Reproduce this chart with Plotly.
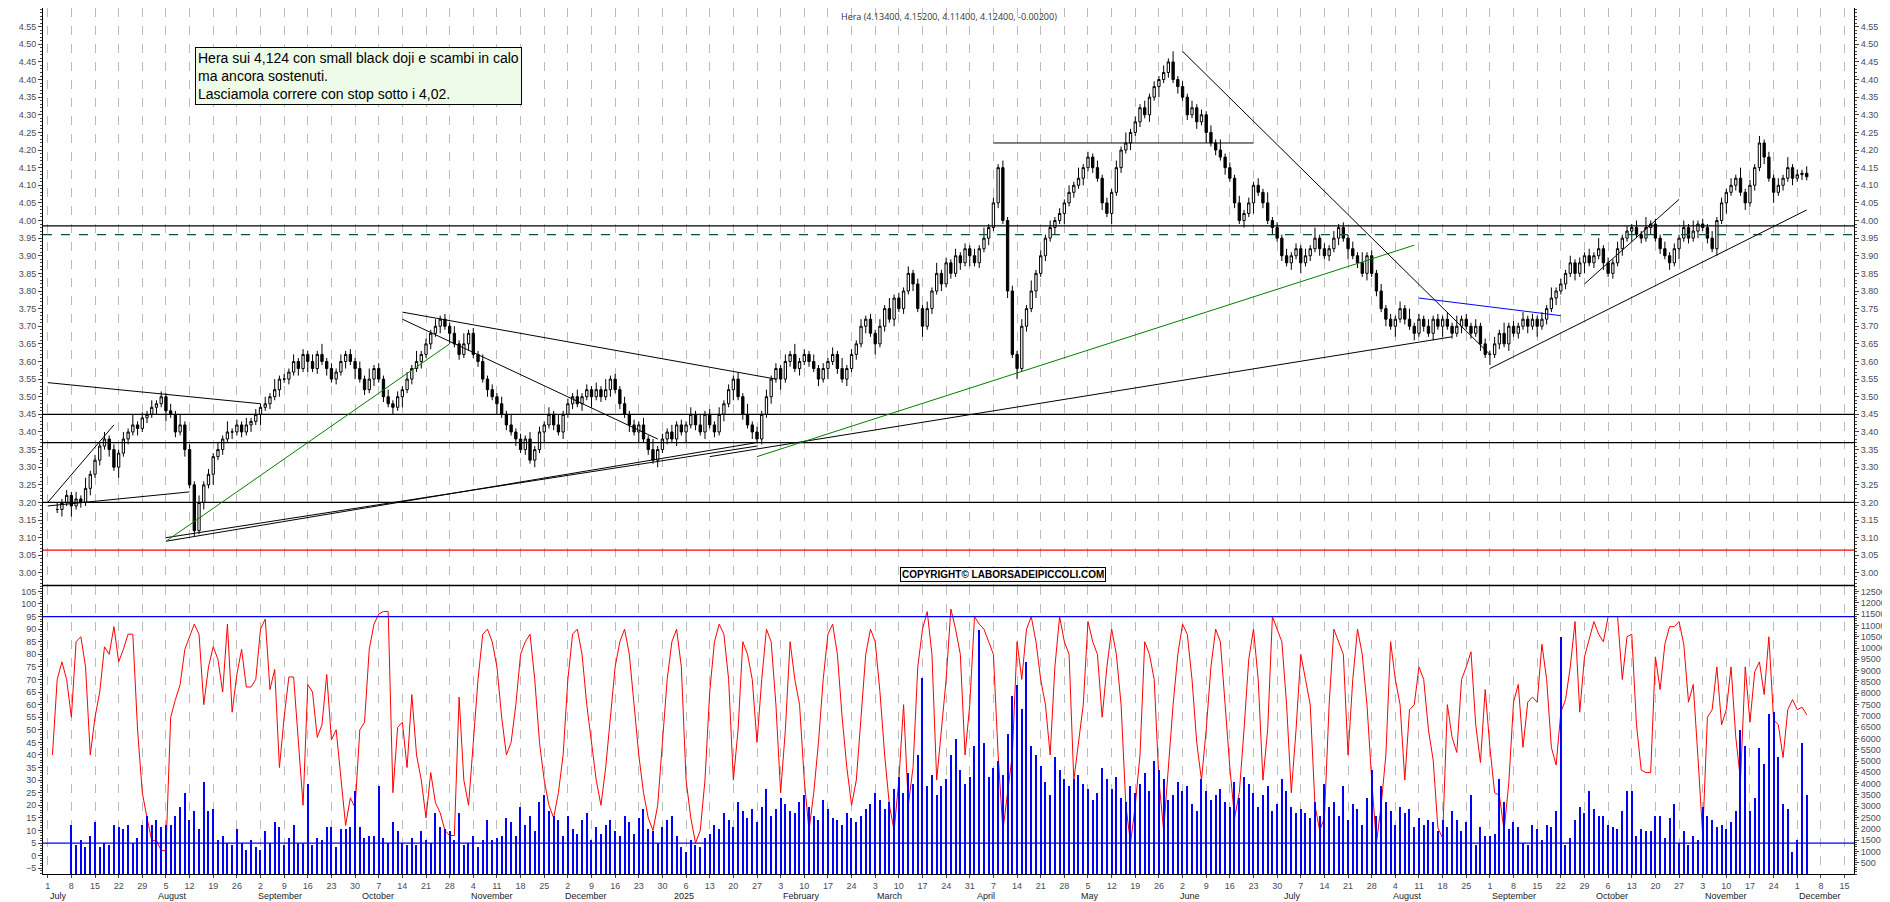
import pandas as pd
import plotly.graph_objects as go

# chiusure giornaliere
close = [
    3.18, 3.20, 3.22, 3.19, 3.21,
    3.20, 3.24, 3.28, 3.32, 3.36, 3.38, 3.35, 3.30, 3.34, 3.38, 3.40, 3.42, 3.41, 3.44, 3.45, 3.47, 3.48, 3.50, 3.46, 3.45, 3.40, 3.42,
    3.35, 3.25, 3.12, 3.20, 3.25, 3.28, 3.33, 3.35, 3.38, 3.40, 3.40, 3.42, 3.40, 3.42, 3.43, 3.45, 3.47, 3.48, 3.50, 3.52, 3.55, 3.55,
    3.57, 3.60, 3.58, 3.62, 3.60, 3.58, 3.62, 3.60, 3.58, 3.55, 3.57, 3.60, 3.62, 3.60, 3.58, 3.55, 3.52, 3.55, 3.58, 3.55, 3.50, 3.48,
    3.47, 3.50, 3.52, 3.55, 3.58, 3.60, 3.62, 3.65, 3.68, 3.70, 3.72, 3.70, 3.68, 3.65, 3.62, 3.65, 3.68, 3.62, 3.60, 3.55, 3.52, 3.50,
    3.48, 3.45, 3.42, 3.40, 3.38, 3.35, 3.38, 3.32, 3.35, 3.40, 3.42, 3.45, 3.42, 3.40, 3.45, 3.48, 3.50, 3.48, 3.50, 3.52, 3.50,
    3.52, 3.50, 3.52, 3.55, 3.52, 3.48, 3.45, 3.42, 3.40, 3.42, 3.38, 3.35, 3.32, 3.35, 3.38, 3.40, 3.38, 3.42, 3.40, 3.42,
    3.45, 3.42, 3.40, 3.45, 3.42, 3.40, 3.45, 3.48, 3.52, 3.55, 3.50, 3.45, 3.42, 3.40, 3.38, 3.45, 3.50, 3.55, 3.58, 3.55, 3.60, 3.62,
    3.58, 3.60, 3.62, 3.60, 3.58, 3.55, 3.58, 3.60, 3.62, 3.58, 3.55, 3.58, 3.62, 3.65, 3.70, 3.72, 3.68, 3.65, 3.70, 3.75,
    3.72, 3.78, 3.75, 3.80, 3.85, 3.82, 3.75, 3.70, 3.75, 3.80, 3.85, 3.82, 3.88, 3.85, 3.90, 3.88, 3.92, 3.90, 3.88, 3.92, 3.95, 3.98,
    4.05, 4.15, 4.00, 3.80, 3.62, 3.58, 3.70, 3.75, 3.80, 3.85, 3.90, 3.95, 3.98, 4.00, 4.02, 4.05, 4.08, 4.10, 4.12, 4.15, 4.18, 4.15,
    4.12, 4.05, 4.02, 4.08, 4.15, 4.20, 4.22, 4.25, 4.28, 4.32, 4.30, 4.35, 4.38, 4.40, 4.42, 4.45, 4.40, 4.38, 4.35, 4.30,
    4.32, 4.28, 4.30, 4.25, 4.22, 4.20, 4.18, 4.15, 4.12, 4.05, 4.00, 4.02, 4.05, 4.10, 4.08, 4.05, 4.00, 3.98, 3.95, 3.90, 3.88,
    3.90, 3.92, 3.88, 3.90, 3.92, 3.95, 3.92, 3.90, 3.92, 3.95, 3.98, 3.95, 3.92, 3.90, 3.88, 3.85, 3.90, 3.85, 3.80, 3.75, 3.72, 3.70,
    3.72, 3.75, 3.72, 3.70, 3.68, 3.72, 3.70, 3.68, 3.72, 3.70, 3.72, 3.70, 3.68, 3.70, 3.72, 3.70, 3.68, 3.70, 3.65, 3.62,
    3.62, 3.65, 3.68, 3.65, 3.70, 3.68, 3.70, 3.72, 3.70, 3.72, 3.70, 3.72, 3.75, 3.78, 3.80, 3.82, 3.85, 3.88, 3.85, 3.88, 3.90, 3.88,
    3.90, 3.92, 3.88, 3.85, 3.88, 3.92, 3.95, 3.97, 3.98, 3.96, 3.95, 3.98, 3.99, 3.95, 3.92, 3.90, 3.88, 3.92, 3.95, 3.98, 3.95, 3.97, 3.99,
    3.98, 3.95, 3.92, 4.00, 4.05, 4.08, 4.10, 4.12, 4.08, 4.05, 4.10, 4.15, 4.22, 4.18, 4.12, 4.08, 4.10, 4.12, 4.15, 4.12,
    4.13, 4.134, 4.124,
]
# escursione sopra/sotto il corpo
wick = [0.02, 0.01, 0.015, 0.01, 0.02, 0.01, 0.03, 0.01, 0.015, 0.01]

# oscillatore (scala sinistra)
osc = [
    40, 70, 77, 70, 55, 85, 87, 75, 40, 55, 65, 83, 80, 91, 77, 82, 88, 88, 50, 25, 15, 6,
    6, 2, 2, 55, 62, 68, 82, 87, 92, 88, 60, 75, 83, 78, 65, 92, 57, 72, 82, 67, 67, 70,
    90, 94, 66, 74, 35, 55, 71, 71, 45, 20, 68, 65, 47, 52, 72, 46, 50, 30, 12, 23, 19, 50,
    53, 82, 92, 96, 97, 97, 25, 51, 53, 35, 64, 40, 30, 15, 33, 21, 17, 10, 8, 8, 63, 30,
    20, 45, 70, 88, 90, 85, 75, 55, 40, 45, 60, 80, 85, 88, 70, 45, 30, 20, 15, 25, 40, 70, 88, 90, 80, 60,
    45, 30, 20, 35, 55, 75, 85, 90, 80, 60, 40, 25, 15, 10, 20, 45, 70, 85, 90, 75,
    30, 15, 5, 10, 30, 65, 85, 92, 88, 70, 30, 50, 85, 80, 70, 45, 70, 90, 85, 60, 25, 50, 85, 70, 60, 30, 10,
    25, 45, 70, 88, 92, 80, 55, 35, 20, 30, 55, 80, 90, 85, 65, 40, 20, 10, 30, 60,
    20, 35, 75, 90, 97, 80, 30, 50, 70, 98, 90, 80, 40, 60, 95, 92, 90, 85, 80, 40, 10, 25, 40, 85, 70, 90, 95, 85,
    70, 60, 40, 75, 95, 85, 80, 30, 45, 60, 93, 85, 80, 55, 75, 90, 80, 60, 20, 5, 20, 40, 85, 80, 70, 30, 10,
    35, 60, 80, 92, 88, 70, 45, 30, 50, 75, 90, 85, 60, 35, 15, 25, 50, 78, 90, 70,
    30, 50, 95, 90, 85, 60, 25, 50, 80, 70, 60, 20, 10, 15, 60, 90, 85, 80, 40, 70, 90, 80, 60, 30, 5, 20, 40, 85,
    70, 60, 30, 58, 60, 75, 70, 50, 38, 11, 7, 60, 47, 41, 70, 75, 81, 52, 37, 66, 43,
    25, 24, 10, 29, 61, 68, 43, 61, 63, 61, 84, 70, 43, 36, 57, 62, 75, 93, 57, 79, 86, 93,
    88, 85, 95, 95, 95, 70, 87, 88, 52, 34, 33, 33, 79, 66, 84, 91, 91, 93, 84, 61, 68, 39,
    8, 55, 58, 75, 52, 58, 75, 47, 30, 75, 53, 73, 77, 64, 87, 54, 52, 39, 58, 62, 58, 59, 56,
]

# volumi (scala destra, x1000)
vol = [
    2200, 1300, 1500, 1200, 1700,
    2300, 1200, 1400, 1300, 2200, 2100, 2000, 2200, 1400, 1600, 2200, 2600, 2200, 2400, 2100, 2200, 2200, 2600, 3000, 3600, 2400, 2800,
    2000, 4100, 2800, 2900, 1500, 1700, 1400, 1300, 2000, 1400, 1100, 1500, 1200, 1100, 1900, 1400, 2300, 2100, 1300, 1600, 2200, 1400,
    1400, 4000, 1300, 1600, 1500, 2100, 2100, 1200, 2000, 2000, 2100, 3700, 2100, 1600, 1700, 1700, 3900, 1600, 1400, 2300, 1900, 1400,
    1300, 1600, 1300, 1900, 1500, 1400, 2700, 2100, 2000, 1900, 1500, 2700, 1300, 1400, 1700, 1200, 1500, 2400, 1500, 1600, 1700, 2500,
    2300, 1700, 3000, 2200, 2600, 1900, 3200, 3500, 2800, 2600, 2400, 1700, 2600, 2000, 1800, 2400, 2700, 1500, 2100, 1800, 2200,
    2400, 1900, 1700, 2600, 2300, 1800, 2500, 2900, 2000, 1900, 1400, 2100, 2400, 2600, 1700, 1200, 1000, 1500, 1300, 1200,
    1600, 1800, 2200, 2000, 2700, 2400, 2100, 3200, 2800, 2500, 2900, 2300, 3000, 3800, 2600, 2900, 3400, 3100, 2800, 2700, 3200, 3500,
    3000, 2600, 2400, 3300, 2900, 2500, 2400, 2200, 2700, 2500, 2300, 2600, 2900, 3100, 3600, 3300, 2900, 3200, 3800, 4300,
    3600, 4500, 4000, 5300, 8700, 3900, 4400, 3500, 3900, 4200, 5300, 6000, 4600, 4000, 4300, 5700, 10800, 5800, 4300, 4700, 5000, 4400,
    6200, 7900, 8400, 7300, 9400, 5700, 5300, 4800, 4100, 3500, 5200, 4600, 4200, 3900, 4200, 4400, 4000, 3800, 3300, 3600, 4700, 4200,
    3800, 4300, 3400, 3200, 3900, 3600, 4000, 4500, 3700, 5000, 4600, 4200, 3300, 3500, 4100, 3700, 3900, 3100, 2800, 4200,
    3700, 3300, 3500, 3800, 3200, 3000, 4100, 3400, 4300, 4000, 3600, 3000, 3500, 3900, 2800, 3100, 4200, 3700, 3000, 2700, 2900,
    2700, 2500, 3200, 2600, 4000, 3000, 3200, 2600, 3900, 2400, 3100, 2900, 2200, 3400, 4600, 2600, 3900, 3200, 2800, 2200, 3000, 2700,
    2900, 2100, 2500, 2200, 2400, 2300, 1900, 2400, 2100, 2800, 2400, 1900, 2300, 3500, 1300, 2100, 1700, 1700, 1800, 4200,
    3200, 2000, 2300, 2100, 1400, 1300, 2200, 2000, 1500, 2200, 2100, 2800, 10500, 1300, 1600, 2400, 3000, 2700, 3700, 2900, 2600, 2600,
    2200, 2100, 2000, 2800, 3700, 3700, 1700, 2000, 1900, 1900, 2600, 2600, 1600, 2500, 3100, 1400, 1900, 1300, 1700, 1500, 3000,
    2600, 2400, 2100, 2200, 2000, 2300, 2800, 6400, 5700, 2800, 3400, 5600, 4900, 7100, 7200, 5200, 3100, 2900, 1000, 1500,
    5800, 3500,
]

months = ['July', 'August', 'September', 'October', 'November', 'December', '2025', 'February', 'March',
          'April', 'May', 'June', 'July', 'August', 'September', 'October', 'November', 'December']
month_start = pd.date_range('2024-07-01', periods=len(months), freq='MS')

last_day = '2025-12-03'
dates = pd.bdate_range(end=last_day, periods=len(close))
opens = [close[0]] + close[:-1]
highs = [max(o, c) + wick[i % len(wick)] for i, (o, c) in enumerate(zip(opens, close))]
lows = [min(o, c) - wick[(i + 3) % len(wick)] for i, (o, c) in enumerate(zip(opens, close))]

fig = go.Figure()
fig.add_trace(go.Candlestick(
    x=dates, open=opens, high=highs, low=lows, close=close,
    increasing=dict(line=dict(color='black', width=1), fillcolor='white'),
    decreasing=dict(line=dict(color='black', width=1), fillcolor='black'),
    whiskerwidth=0, showlegend=False, xaxis='x', yaxis='y'))

fig.add_trace(go.Bar(x=pd.bdate_range(end=last_day, periods=len(vol)), y=vol,
                     marker=dict(color='blue', line=dict(width=0)), width=1000 * 3600 * 6,
                     showlegend=False, xaxis='x', yaxis='y3'))
fig.add_trace(go.Scatter(x=pd.bdate_range(end=last_day, periods=len(osc)), y=osc, mode='lines',
                         line=dict(color='red', width=1), showlegend=False, xaxis='x', yaxis='y2'))

xr = ['2024-06-28', '2025-12-17']
# linee orizzontali di prezzo
for lvl, col, dash in [(3.985, 'black', 'solid'), (3.96, '#0b4f4a', 'dash'), (3.45, 'black', 'solid'),
                       (3.37, 'black', 'solid'), (3.20, 'black', 'solid'), (3.065, 'red', 'solid')]:
    fig.add_shape(type='line', xref='x domain', yref='y', x0=0, x1=1, y0=lvl, y1=lvl,
                  line=dict(color=col, width=1.3, dash=dash))
for lvl in [95, 5]:
    fig.add_shape(type='line', xref='x domain', yref='y2', x0=0, x1=1, y0=lvl, y1=lvl,
                  line=dict(color='blue', width=1.3))

trend = [
    ('2024-07-01', 3.54, '2024-09-02', 3.48, 'black'),
    ('2024-07-01', 3.19, '2024-08-12', 3.23, 'black'),
    ('2024-07-01', 3.20, '2024-07-19', 3.42, 'black'),
    ('2024-08-05', 3.09, '2025-01-27', 3.37, 'black'),
    ('2024-08-05', 3.10, '2025-01-27', 3.36, 'black'),
    ('2024-08-05', 3.09, '2024-10-28', 3.65, 'green'),
    ('2024-10-14', 3.74, '2025-01-31', 3.55, 'black'),
    ('2024-10-14', 3.72, '2024-12-27', 3.38, 'black'),
    ('2025-01-13', 3.33, '2025-08-20', 3.67, 'black'),
    ('2025-01-27', 3.33, '2025-08-08', 3.93, 'green'),
    ('2025-04-07', 4.22, '2025-06-23', 4.22, 'black'),
    ('2025-06-02', 4.48, '2025-09-01', 3.62, 'black'),
    ('2025-08-11', 3.78, '2025-09-22', 3.73, 'blue'),
    ('2025-09-01', 3.58, '2025-12-03', 4.03, 'black'),
    ('2025-09-29', 3.82, '2025-10-27', 4.06, 'black'),
]
for x0, y0, x1, y1, col in trend:
    fig.add_shape(type='line', xref='x', yref='y', x0=x0, y0=y0, x1=x1, y1=y1, line=dict(color=col, width=1))

# separatore tra i pannelli
fig.add_shape(type='line', xref='paper', yref='paper', x0=0, x1=1, y0=0.333, y1=0.333,
              line=dict(color='black', width=1.5))

for d, m in zip(month_start, months):
    fig.add_annotation(x=d, xref='x', y=0, yref='paper', yshift=-15, text=m, showarrow=False,
                       xanchor='left', yanchor='top', font=dict(size=9, color='#222', family='Liberation Sans'))

fig.add_annotation(xref='paper', yref='paper', x=0.084, y=0.955, xanchor='left', yanchor='top', align='left',
                   text='Hera sui 4,124 con small black doji e scambi in calo<br>ma ancora sostenuti.<br>Lasciamola correre con stop sotto i 4,02.',
                   showarrow=False, bgcolor='#eefbe8', bordercolor='black', borderwidth=1, borderpad=2,
                   font=dict(family='Liberation Sans', size=14, color='black'))
fig.add_annotation(xref='paper', yref='paper', x=0.53, y=0.346, text='<b>COPYRIGHT© LABORSADEIPICCOLI.COM</b>',
                   showarrow=False, bordercolor='black', borderwidth=1, borderpad=1, bgcolor='white',
                   font=dict(family='Liberation Sans', size=10, color='black'))
fig.add_annotation(xref='paper', yref='paper', x=0.5, y=1.0, yanchor='top',
                   text='Hera (4.13400, 4.15200, 4.11400, 4.12400, -0.00200)', showarrow=False,
                   font=dict(size=9, color='#333'))

tick_font = dict(size=9, color='#4a4a5a', family='Liberation Sans')
price_ticks = [round(3.00 + 0.05 * i, 2) for i in range(32)]
common = dict(showgrid=False, ticks='outside', ticklen=4, showline=True, linecolor='black',
              tickfont=tick_font, zeroline=False)
fig.update_layout(
    width=1890, height=902, plot_bgcolor='white', paper_bgcolor='white',
    margin=dict(l=35, r=44, t=0, b=36), showlegend=False, bargap=0,
    xaxis=dict(type='date', range=xr, rangeslider=dict(visible=False),
               rangebreaks=[dict(bounds=['sat', 'mon'])],
               tick0='2024-07-08', dtick=7 * 86400000, tickformat='%-d', ticks='outside', ticklen=3,
               showgrid=True, gridcolor='#bbbbbb', griddash='dash', gridwidth=1,
               showline=True, linecolor='black', tickfont=tick_font, anchor='y2'),
    yaxis=dict(domain=[0.333, 1], range=[2.964, 4.603], tickvals=price_ticks, tickformat='.2f',
               minor=dict(ticks='outside', ticklen=2, dtick=0.01), **common),
    yaxis4=dict(overlaying='y', side='right', range=[2.964, 4.603], tickvals=price_ticks, tickformat='.2f',
                minor=dict(ticks='outside', ticklen=2, dtick=0.01), **common),
    yaxis2=dict(domain=[0, 0.333], range=[-7.3, 107.3], tickvals=list(range(-5, 106, 5)),
                minor=dict(ticks='outside', ticklen=2, dtick=1), **common),
    yaxis3=dict(overlaying='y2', side='right', range=[0, 12760], tickvals=list(range(500, 12501, 500)),
                tickformat='d', minor=dict(ticks='outside', ticklen=2, dtick=100), **common),
)
fig.add_trace(go.Scatter(x=[dates[0]], y=[3.5], yaxis='y4', mode='markers', marker=dict(opacity=0), showlegend=False))
fig.write_html('out.html')
